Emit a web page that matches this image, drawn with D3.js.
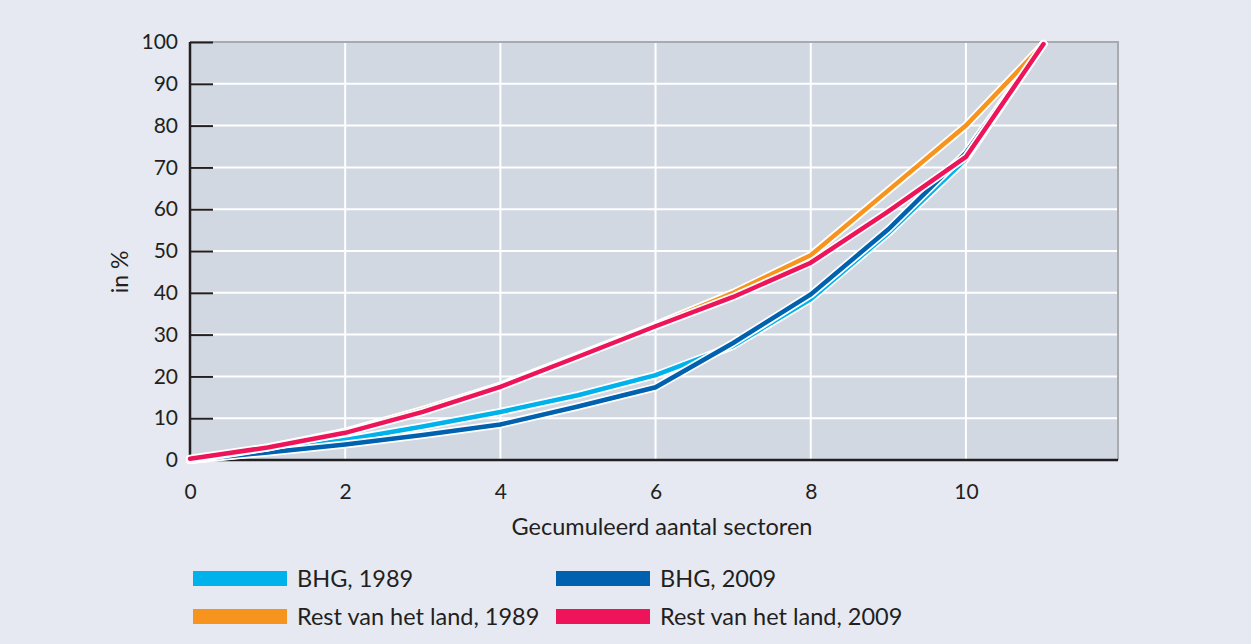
<!DOCTYPE html>
<head>
    <meta charset="utf-8">
    <title>Gecumuleerd aantal sectoren</title>
    <script type="text/javascript" src="https://d3js.org/d3.v7.min.js"></script>
    <style>
        body { margin: 0; background: #e6e9f1; }
        svg text { font-family: Lato, "Open Sans", sans-serif; fill: #231f20; }
    </style>
</head>
<body>
<div id="container"></div>
<script>
    //----------------------------DATA-------------------------------//
    const sectors = [0, 1, 2, 3, 4, 5, 6, 7, 8, 9, 10, 11];
    const bhg1989  = [0, 2.0, 4.8, 8.0, 11.5, 15.5, 20.3, 27.3, 38.5, 54.3, 72.0, 99.5];
    const bhg2009  = [0, 1.8, 3.7, 6.0, 8.5, 12.8, 17.4, 28.0, 39.6, 55.2, 73.5, 99.5];
    const rest1989 = [0, 3.0, 6.8, 12.0, 17.8, 25.0, 32.3, 40.0, 49.0, 64.5, 80.0, 99.5];
    const rest2009 = [0.3, 3.0, 6.5, 11.5, 17.5, 24.7, 32.0, 39.0, 47.2, 59.5, 72.5, 99.5];

    const xTicks = [0, 2, 4, 6, 8, 10];
    const yTicks = [0, 10, 20, 30, 40, 50, 60, 70, 80, 90, 100];

    const seriesNames = ["BHG, 1989", "BHG, 2009", "Rest van het land, 1989", "Rest van het land, 2009"];
    const seriesColors = ["#00b2eb", "#0061ae", "#f7941d", "#ed1459"];

    const series = [
        {name: seriesNames[0], color: seriesColors[0], values: bhg1989},
        {name: seriesNames[1], color: seriesColors[1], values: bhg2009},
        {name: seriesNames[2], color: seriesColors[2], values: rest1989},
        {name: seriesNames[3], color: seriesColors[3], values: rest2009}
    ];

    //-----------------------------SVG-------------------------------//
    const width = 1251, height = 644;
    const svg = d3.select("#container").append("svg")
        .attr("width", width)
        .attr("height", height);

    const plot = {left: 190, right: 1118, top: 42, bottom: 460};

    const xScale = d3.scaleLinear().domain([0, 11.96]).range([plot.left, plot.right]);
    const yScale = d3.scaleLinear().domain([0, 100]).range([plot.bottom, plot.top]);

    // plot background
    svg.append("rect")
        .attr("x", plot.left).attr("y", plot.top)
        .attr("width", plot.right - plot.left)
        .attr("height", plot.bottom - plot.top)
        .attr("fill", "#d1d8e2");

    // grid
    svg.append("g").selectAll("line")
        .data(yTicks.filter(d => d > 0 && d < 100))
        .join("line")
        .attr("x1", plot.left).attr("x2", plot.right)
        .attr("y1", d => yScale(d)).attr("y2", d => yScale(d))
        .attr("stroke", "#fff").attr("stroke-width", 2);

    svg.append("g").selectAll("line")
        .data(xTicks.filter(d => d > 0))
        .join("line")
        .attr("x1", d => xScale(d)).attr("x2", d => xScale(d))
        .attr("y1", plot.top).attr("y2", plot.bottom)
        .attr("stroke", "#fff").attr("stroke-width", 2);

    // top and right frame
    svg.append("path")
        .attr("d", `M${plot.left},${plot.top}H${plot.right}V${plot.bottom}`)
        .attr("fill", "none").attr("stroke", "#a8aaad").attr("stroke-width", 2);

    //-----------------------------AXES------------------------------//
    const yAxis = d3.axisLeft(yScale).tickValues(yTicks).tickSize(-23).tickPadding(12);
    const gy = svg.append("g")
        .attr("transform", `translate(${plot.left},0)`)
        .call(yAxis);
    gy.select(".domain").remove();
    gy.selectAll(".tick line").attr("stroke", "#231f20").attr("stroke-width", 2);
    gy.selectAll(".tick text").attr("font-size", 21).attr("fill", "#231f20");

    const xAxis = d3.axisBottom(xScale).tickValues(xTicks).tickSize(0).tickPadding(24);
    const gx = svg.append("g")
        .attr("transform", `translate(0,${plot.bottom})`)
        .call(xAxis);
    gx.select(".domain").remove();
    gx.selectAll(".tick text").attr("font-size", 21).attr("fill", "#231f20");

    svg.append("line")
        .attr("x1", plot.left).attr("x2", plot.right)
        .attr("y1", plot.bottom).attr("y2", plot.bottom)
        .attr("stroke", "#231f20").attr("stroke-width", 2.5);
    svg.append("line")
        .attr("x1", plot.left).attr("x2", plot.left)
        .attr("y1", plot.top).attr("y2", plot.bottom)
        .attr("stroke", "#231f20").attr("stroke-width", 2.5);

    svg.append("text")
        .attr("x", 662)
        .attr("y", 535)
        .attr("text-anchor", "middle")
        .attr("font-size", 23.5)
        .text("Gecumuleerd aantal sectoren");

    svg.append("text")
        .attr("transform", `translate(128,272) rotate(-90)`)
        .attr("text-anchor", "middle")
        .attr("font-size", 23)
        .text("in %");

    //----------------------------LINES------------------------------//
    const line = d3.line()
        .x((d, i) => xScale(sectors[i]))
        .y(d => yScale(d));

    const lines = svg.append("g").selectAll("g")
        .data(series)
        .join("g");

    lines.append("path")
        .attr("d", d => line(d.values))
        .attr("fill", "none")
        .attr("stroke", "#fff")
        .attr("stroke-width", 8)
        .attr("stroke-linecap", "round")
        .attr("stroke-linejoin", "round");

    lines.append("path")
        .attr("d", d => line(d.values))
        .attr("fill", "none")
        .attr("stroke", d => d.color)
        .attr("stroke-width", 4.5)
        .attr("stroke-linecap", "round")
        .attr("stroke-linejoin", "miter");

    //----------------------------LEGEND-----------------------------//
    const legendPos = [[193, 571], [556, 571], [193, 609], [556, 609]];
    const legend = svg.append("g").selectAll("g")
        .data(series)
        .join("g")
        .attr("transform", (d, i) => `translate(${legendPos[i][0]},${legendPos[i][1]})`);

    legend.append("rect")
        .attr("width", 94).attr("height", 15)
        .attr("fill", d => d.color);

    legend.append("text")
        .attr("x", 104).attr("y", 16)
        .attr("font-size", 23.5)
        .text(d => d.name);
</script>
</body>
